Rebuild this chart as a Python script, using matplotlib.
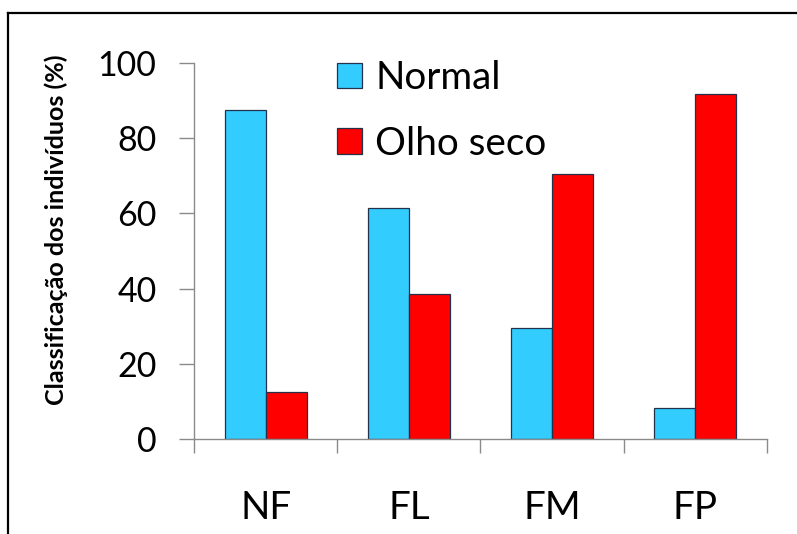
#!/usr/bin/env python3
"""Bar chart: classificação dos indivíduos por grupo (Normal vs Olho seco)."""

import matplotlib
matplotlib.use("Agg")
import matplotlib.pyplot as plt
from matplotlib.lines import Line2D

CATEGORIES = ["NF", "FL", "FM", "FP"]
NORMAL = [87.5, 61.5, 29.4, 8.3]
OLHO_SECO = [12.5, 38.5, 70.6, 91.7]
SERIES = ["Normal", "Olho seco"]
Y_TICKS = [0, 20, 40, 60, 80, 100]
Y_LABEL = "Classificação dos indivíduos (%)"

CYAN = "#33ccff"
RED = "#ff0000"
EDGE = "#23324a"
AXIS = "#8a8a8a"

plt.rcParams["font.family"] = ["Lato", "DejaVu Sans"]

W, H = 797, 534


def main():
    fig = plt.figure(figsize=(W / 100, H / 100), dpi=100)
    ax = fig.add_axes([194 / W, 1 - 439 / H, 573 / W, 376 / H])

    x = list(range(len(CATEGORIES)))
    width = 0.286
    ax.bar([i - width / 2 for i in x], NORMAL, width, color=CYAN,
           edgecolor=EDGE, linewidth=0.9, label=SERIES[0])
    ax.bar([i + width / 2 for i in x], OLHO_SECO, width, color=RED,
           edgecolor=EDGE, linewidth=0.9, label=SERIES[1])

    ax.set_xlim(-0.5, len(CATEGORIES) - 0.5)
    ax.set_ylim(0, 100)
    ax.set_yticks(Y_TICKS)
    ax.tick_params(axis="y", direction="out", length=11, width=1,
                   color=AXIS, pad=16, labelsize=24.5)
    ax.set_xticks(x)
    ax.set_xticklabels(CATEGORIES)
    ax.set_xticks([i - 0.5 for i in range(len(CATEGORIES) + 1)], minor=True)
    ax.tick_params(axis="x", which="major", length=0, pad=37, labelsize=27.8)
    ax.tick_params(axis="x", which="minor", direction="out", length=10,
                   width=1, color=AXIS)

    for side in ("top", "right"):
        ax.spines[side].set_visible(False)
    for side in ("left", "bottom"):
        ax.spines[side].set_color(AXIS)
        ax.spines[side].set_linewidth(1)

    ax.legend(loc="upper left", bbox_to_anchor=(0.2496, 1.008),
              frameon=False, fontsize=27.8, borderaxespad=0, borderpad=0,
              handlelength=0.65, handleheight=0.65, handletextpad=0.34,
              labelspacing=0.77)

    fig.text(56 / W, 1 - 230 / H, Y_LABEL, rotation=90, ha="center",
             va="center", fontsize=18, fontweight="bold")

    # frame lines of the original screenshot
    fig.add_artist(Line2D([8 / W, 8 / W], [0, 1 - 13 / H], color="black",
                          lw=1.6, transform=fig.transFigure))
    fig.add_artist(Line2D([8 / W, 1], [1 - 13 / H, 1 - 13 / H], color="black",
                          lw=1.6, transform=fig.transFigure))

    fig.savefig("out.png", dpi=100)


if __name__ == "__main__":
    main()
